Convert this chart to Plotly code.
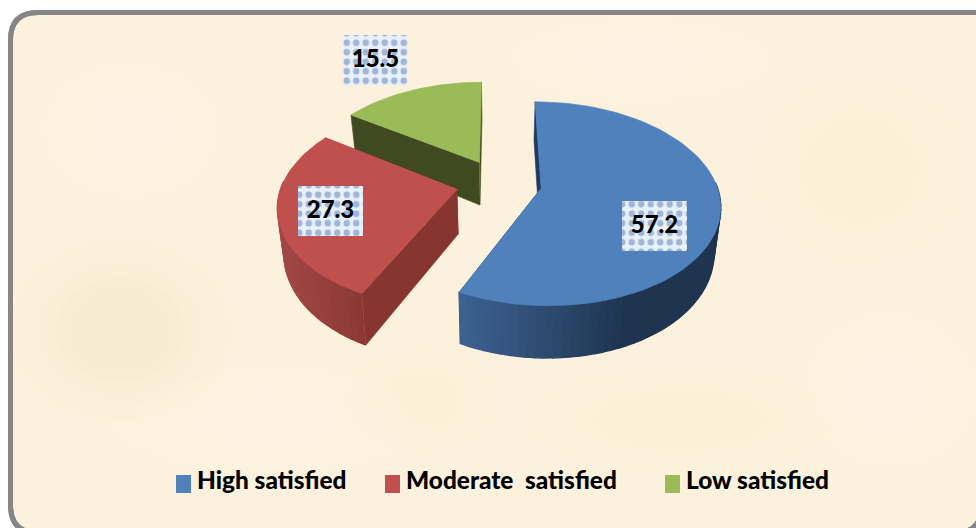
import numpy as np
import plotly.graph_objects as go

categories = ["High satisfied", "Moderate\u00a0 satisfied", "Low satisfied"]
values = [57.2, 27.3, 15.5]
value_labels = ["57.2", "27.3", "15.5"]
top_colors = ["#4F81BD", "#C0504D", "#9BBB59"]
wall_colors = ["#1F3A5F", "#87352F", "#404A20"]
rim_left = ["#3D6392", "#A34845", "#404A20"]
rim_right = ["#1F344F", "#8C3936", "#404A20"]
label_boxes = [(622, 201), (298, 186), (343, 35)]
legend_x = [176, 385, 665]

W, H = 976, 528
X0, Y0 = 499, 183
A, B, K, DEPTH, CONV = 175, 98, 0.15, 44, 0.03
EXPLODE = 0.245
START = -0.2


def proj(U, V, z=0.0):
    w = 1 - K * V
    x = X0 + A * U / w
    y = Y0 + B * V / w + DEPTH * z / w
    x = x + (X0 - x) * CONV * z
    return x, y


def hex2rgb(c):
    return np.array([int(c[i:i + 2], 16) for i in (1, 3, 5)], float)


def mix(c1, c2, f):
    r = hex2rgb(c1) * (1 - f) + hex2rgb(c2) * f
    return "rgb(%d,%d,%d)" % tuple(r)


def poly(xs, ys, color, lw=0.6):
    return go.Scatter(x=list(xs), y=list(ys), mode="lines", fill="toself",
                      fillcolor=color, line=dict(color=color, width=lw),
                      hoverinfo="skip", showlegend=False)


fig = go.Figure()

bounds = np.cumsum([0] + values) / sum(values) * 360 + START
draw_order = [2, 1, 0]
for i in draw_order:
    t0, t1 = bounds[i], bounds[i + 1]
    tm = np.radians((t0 + t1) / 2)
    cu, cv = EXPLODE * np.sin(tm), -EXPLODE * np.cos(tm)
    ts = np.radians(np.linspace(t0, t1, int((t1 - t0) / 2.5) + 2))
    U = cu + np.sin(ts)
    V = cv - np.cos(ts)

    for tt in (ts[0], ts[-1]):
        u, v = cu + np.sin(tt), cv - np.cos(tt)
        p = [proj(cu, cv), proj(u, v), proj(u, v, 1), proj(cu, cv, 1)]
        fig.add_trace(poly([q[0] for q in p], [q[1] for q in p], wall_colors[i]))

    xt, yt = proj(U, V)
    xb, yb = proj(U, V, 1)
    lo, hi = xt.min(), xt.max()
    for j in range(len(ts) - 1):
        if np.cos(ts[j]) > 0.05 and np.cos(ts[j + 1]) > 0.05:
            continue
        if i == 0:
            f = np.clip(((xt[j] + xt[j + 1]) / 2 - 460) / 170, 0, 1)
        else:
            f = np.clip(((xt[j] + xt[j + 1]) / 2 - lo) / (hi - lo), 0, 1)
        col = mix(rim_left[i], rim_right[i], f)
        fig.add_trace(poly([xt[j], xt[j + 1], xb[j + 1], xb[j]],
                           [yt[j], yt[j + 1], yb[j + 1], yb[j]], col, lw=1.4))

    ax, ay = proj(cu, cv)
    fig.add_trace(poly(np.r_[ax, xt, ax], np.r_[ay, yt, ay], top_colors[i]))

# data labels: dotted boxes + text, on an overlay axis pair so they sit above the pie
BW, BH = 65, 50
for (bx, by) in label_boxes:
    fig.add_trace(go.Bar(x=[bx + BW / 2], y=[BH], base=[by], width=[BW],
                         xaxis="x2", yaxis="y2",
                         marker=dict(color="#E9F1FB", line=dict(width=0),
                                     pattern=dict(shape=".", size=9.5, solidity=0.36,
                                                  fgcolor="#A0B5D8", bgcolor="#E8F0F9",
                                                  fillmode="replace")),
                         hoverinfo="skip", showlegend=False))
fig.add_trace(go.Scatter(x=[b[0] + BW / 2 for b in label_boxes],
                         y=[b[1] + BH / 2 + 1 for b in label_boxes],
                         xaxis="x2", yaxis="y2",
                         mode="text", text=value_labels,
                         textfont=dict(family="Lato", size=24, color="#000000", weight=900),
                         textposition="middle center", hoverinfo="skip", showlegend=False))

# legend
for lx, col in zip(legend_x, top_colors):
    fig.add_trace(go.Bar(x=[lx + 7.5], y=[18], base=[475], width=[15],
                         marker=dict(color=col, line=dict(width=0)),
                         hoverinfo="skip", showlegend=False))
fig.add_trace(go.Scatter(x=[lx + 21 for lx in legend_x], y=[483] * 3, mode="text",
                         text=categories,
                         textfont=dict(family="Lato", size=24.4, color="#000000", weight=900),
                         textposition="middle right", hoverinfo="skip", showlegend=False))

# panel with rounded corners, running off the right and bottom edges
panel = ("M 10.5 505 L 10.5 40 Q 10.5 12.5 38 12.5 L 982 12.5 L 982 505 "
         "Q 982 533 954 533 L 38 533 Q 10.5 533 10.5 505 Z")
shapes = [dict(type="path", path=panel, fillcolor="#FCF1DC",
               line=dict(color="#868686", width=5), layer="below")]
# soft mottling of the parchment background
blotches = [(130, 130, 90, 70, "#FFF9EC"), (120, 330, 110, 90, "#F7E8CC"),
            (640, 60, 130, 45, "#FFF9EC"), (860, 170, 100, 90, "#F8EBD0"),
            (270, 420, 160, 55, "#FFF8EA"), (680, 420, 150, 50, "#F8EBD0"),
            (890, 390, 90, 80, "#FFF9EC"), (420, 400, 70, 50, "#F8EBD0")]
for cx, cy, rx, ry, c in blotches:
    for s in np.linspace(1, 0.3, 6):
        shapes.append(dict(type="circle", x0=cx - rx * s, y0=cy - ry * s,
                           x1=cx + rx * s, y1=cy + ry * s, fillcolor=c, opacity=0.07,
                           line=dict(width=0), layer="below"))
# redraw the border above the mottling
shapes.append(dict(type="path", path=panel, line=dict(color="#868686", width=5), layer="below"))

fig.update_layout(
    width=W, height=H, margin=dict(l=0, r=0, t=0, b=0),
    paper_bgcolor="#FFFFFF", plot_bgcolor="rgba(0,0,0,0)",
    xaxis=dict(range=[0, W], visible=False, fixedrange=True),
    yaxis=dict(range=[H, 0], visible=False, fixedrange=True),
    xaxis2=dict(range=[0, W], visible=False, fixedrange=True, overlaying="x"),
    yaxis2=dict(range=[H, 0], visible=False, fixedrange=True, overlaying="y"),
    barmode="overlay", bargap=0, showlegend=False, shapes=shapes,
)
fig.write_html("out.html", config=dict(displayModeBar=False),
               post_script="document.body.style.margin='0';document.body.style.overflow='hidden';")
